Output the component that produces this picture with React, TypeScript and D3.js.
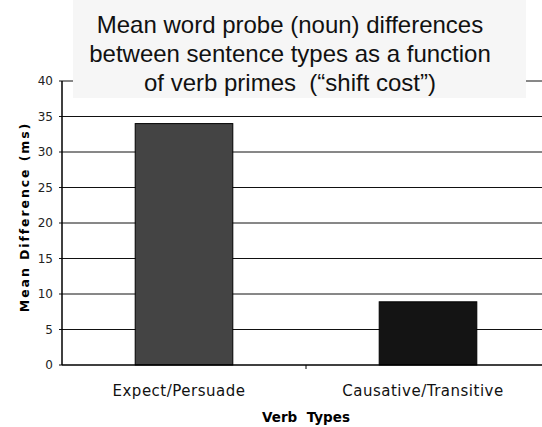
import * as d3 from 'd3';
import React from 'react';

const categories = ['Expect/Persuade', 'Causative/Transitive'];
const values = [34, 8.9];
const barColors = ['#444444', '#141414'];
const yTicks = [0, 5, 10, 15, 20, 25, 30, 35, 40];
const titleLines = [
    'Mean word probe (noun) differences',
    'between sentence types as a function',
    'of verb primes  (\u201cshift cost\u201d)'
];

const W = 542;
const H = 427;
const left = 62;
const right = 550;
const top = 81;
const bottom = 365;

export default function App() {
    const y = d3.scaleLinear().domain([0, 40]).range([bottom, top]);
    const x = d3.scaleBand().domain(categories).range([left, right]).padding(0);
    const barW = x.bandwidth() * 0.4;

    return (
        <svg width={W} height={H} style={{ position: 'absolute', left: 0, top: 0, background: '#fff' }}>
            {/* grid lines */}
            {yTicks.filter(t => t > 0).map(t => (
                <line key={t} x1={left - 3} x2={W} y1={y(t)} y2={y(t)} stroke='#111' strokeWidth={1} />
            ))}
            {/* bars */}
            {categories.map((c, i) => (
                <rect key={c}
                    x={(x(c) as number) + (x.bandwidth() - barW) / 2}
                    y={y(values[i])}
                    width={barW}
                    height={bottom - y(values[i])}
                    fill={barColors[i]}
                    stroke='#000'
                    strokeWidth={1} />
            ))}
            {/* axes */}
            <line x1={left} x2={left} y1={top} y2={bottom} stroke='#000' strokeWidth={1.5} />
            <line x1={left} x2={W} y1={bottom} y2={bottom} stroke='#000' strokeWidth={1.5} />
            <line x1={left - 3} x2={left} y1={bottom} y2={bottom} stroke='#000' strokeWidth={1} />
            <line x1={x(categories[1])} x2={x(categories[1])} y1={bottom} y2={bottom + 4} stroke='#000' strokeWidth={1} />
            {yTicks.map(t => (
                <text key={t} x={53} y={y(t)} dy='0.35em' textAnchor='end'
                    fontFamily='DejaVu Sans' fontSize={12} fill='#222'>{t}</text>
            ))}
            {categories.map(c => (
                <text key={c} x={(x(c) as number) + x.bandwidth() / 2 - 5} y={396} textAnchor='middle'
                    fontFamily='DejaVu Sans' fontSize={15} letterSpacing={0.5} fill='#111'>{c}</text>
            ))}
            <text x={306} y={422} textAnchor='middle' fontFamily='DejaVu Sans' fontWeight='bold'
                fontSize={13.5} fill='#000' style={{ whiteSpace: 'pre' }}>{'Verb  Types'}</text>
            <text transform={`translate(29, 217) rotate(-90)`} textAnchor='middle'
                fontFamily='DejaVu Sans' fontWeight='bold' fontSize={12.5} letterSpacing={1.9}
                fill='#000'>Mean Difference (ms)</text>
            {/* title box */}
            <rect x={73} y={0} width={453} height={98} fill='#f6f6f6' />
            {titleLines.map((l, i) => (
                <text key={i} x={290} y={33 + i * 29} textAnchor='middle'
                    fontFamily='Liberation Sans, Arial' fontSize={24} fill='#111'
                    style={{ whiteSpace: 'pre' }}>{l}</text>
            ))}
        </svg>
    );
}
